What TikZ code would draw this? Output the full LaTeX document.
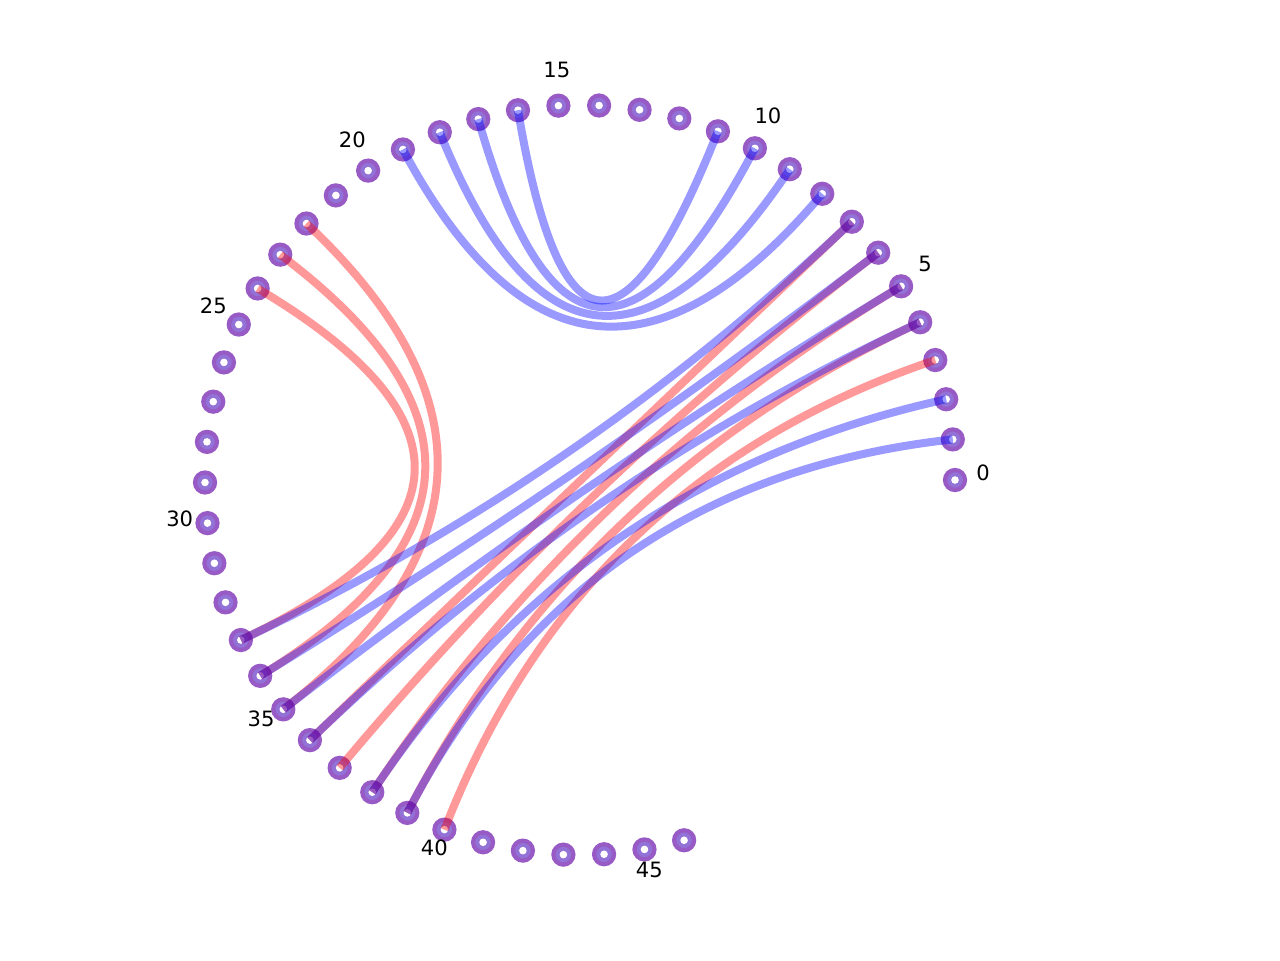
\documentclass[tikz,border=0pt]{standalone}
\usepackage{fontspec}
\setmainfont{DejaVu Sans}
\usetikzlibrary{calc}
\definecolor{ringpurple}{RGB}{152,90,196}
\definecolor{fillpurple}{RGB}{146,114,214}
\begin{document}
\begin{tikzpicture}[
    pt/.style={circle,draw=ringpurple,fill=fillpurple,line width=0.042cm,inner sep=0pt,minimum size=0.2cm},
    chord/.style={line width=0.08cm,opacity=0.4},
    lab/.style={font=\fontsize{6}{7}\selectfont,inner sep=0pt}]
    \useasboundingbox (-5.8,-4.8) rectangle (7.0,4.8);
    \coordinate (o) at (0,0);
    % points and labels
    \foreach \i in {0,...,46}{\node[pt] (p\i) at (\i*6.22:3.75) {}; \fill[white] (p\i.center) circle (0.038);}
    \foreach \i in {0,5,...,45}{\node[lab] (l\i) at ($(\i*6.22:4.03)+(0,0.075)$) {\i};}
    % chords, quadratic through the centre
    \foreach \a/\b in {3/40,4/39,5/38,6/37,7/36,22/35,23/34,24/33}{
        \draw[chord,red] (p\a.center) .. controls ($(p\a.center)!0.6667!(o)$) and ($(p\b.center)!0.6667!(o)$) .. (p\b.center);}
    \foreach \a/\b in {1/39,2/38,4/36,5/35,6/34,7/33,8/19,9/18,10/17,11/16}{
        \draw[chord,blue] (p\a.center) .. controls ($(p\a.center)!0.6667!(o)$) and ($(p\b.center)!0.6667!(o)$) .. (p\b.center);}
\end{tikzpicture}
\end{document}
